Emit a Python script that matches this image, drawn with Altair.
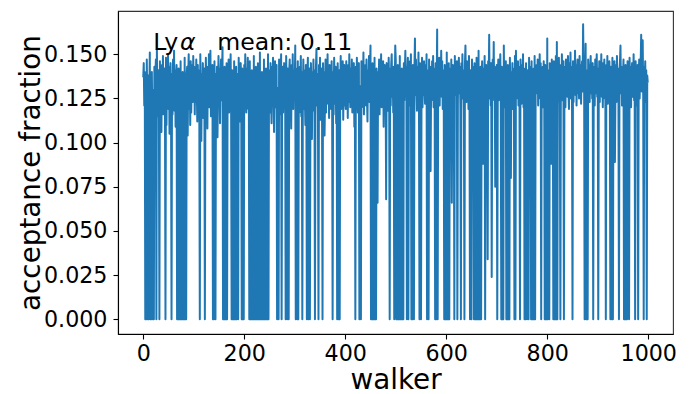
import altair as alt
import pandas as pd

# acceptance fraction per walker, in thousandths
seg0 = [137,145,121,140,0,133,0,147,118,0,
        138,0,125,151,0,119,0,140,112,0,
        130,0,143,117,138,147,0,153,124,115,
        141,122,0,146,118,139,106,144,125,149,
        116,137,142,121,0,148,110,140,126,150,
        119,143,105,138,145,124,0,139,116,147,
        124,152,118,141,109,137,144,0,128,0,
        142,0,128,0,146,0,136,0,140,0,
        120,0,148,0,132,0,139,143,104,137,
        150,119,141,110,146,117,138,144,123,149]
seg1 = [127,143,116,140,123,147,131,112,144,126,
        141,119,0,150,128,101,139,121,145,114,
        129,142,0,123,148,118,140,108,143,124,
        150,120,131,152,115,141,127,144,0,133,
        0,146,122,0,139,116,143,103,127,149,
        121,142,111,138,147,124,140,154,0,129,
        0,143,0,129,0,145,0,133,119,147,
        117,140,126,150,120,0,141,0,137,0,
        146,0,133,0,143,0,139,127,0,148,
        125,141,112,145,128,0,142,0,138,0]
seg2 = [144,122,150,130,117,142,127,148,119,140,
        0,146,0,133,0,141,0,127,0,149,
        0,136,0,143,0,130,0,145,0,138,
        0,151,0,128,0,140,0,134,0,147,
        0,125,0,142,0,137,0,150,0,133,
        141,117,145,129,111,143,122,148,126,106,
        133,146,120,137,144,0,131,123,0,147,
        116,141,128,150,0,124,143,117,131,145,
        121,138,0,149,127,0,142,116,0,140,
        147,123,133,108,144,127,150,119,141,125]
seg3 = [131,155,0,142,122,0,146,0,128,117,
        143,128,149,115,140,0,124,147,119,141,
        127,110,144,123,0,139,148,0,125,142,
        0,117,145,129,102,140,122,147,118,141,
        0,127,143,153,121,139,115,0,144,124,
        148,113,131,142,120,0,145,127,140,104,
        125,147,117,141,129,150,122,139,114,144,
        126,142,119,146,124,0,140,116,148,130,
        122,143,111,139,0,145,125,0,141,0,
        127,149,119,142,124,146,113,139,144,121]
seg4 = [141,119,146,126,139,114,144,123,150,130,
        120,142,127,147,117,140,124,145,109,138,
        0,143,122,148,128,117,141,145,0,125,
        132,0,146,120,142,128,151,116,140,124,
        144,121,147,127,112,141,130,149,123,143,
        155,0,139,0,145,0,131,0,148,0,
        127,0,142,119,66,140,125,147,116,143,
        128,150,120,141,126,146,109,139,144,122,
        129,68,145,124,140,118,148,127,0,142,
        121,144,150,126,139,117,143,0,130,155]
seg5 = [147,0,139,0,144,0,133,0,149,0,
        130,0,142,0,138,0,145,124,140,152,
        128,143,0,137,148,0,141,121,146,131,
        150,0,129,0,144,125,0,141,159,127,
        147,131,118,143,130,151,123,0,145,134,
        0,128,148,120,142,127,146,132,122,144,
        129,150,0,141,125,0,147,131,143,84,
        133,124,146,128,149,120,142,131,0,145,
        0,129,164,0,141,127,148,121,143,132,
        152,126,146,119,141,130,0,144,0,139]
seg6 = [0,151,0,138,0,145,0,129,142,123,
        147,66,131,144,120,141,0,149,127,143,
        129,146,0,124,140,148,128,143,120,0,
        145,130,150,125,141,118,0,144,155,131,
        123,146,129,142,119,149,127,0,141,130,
        0,147,133,143,139,0,145,0,136,0,
        148,0,140,0,152,0,134,0,143,0,
        131,146,122,88,142,129,149,0,127,144,
        132,120,34,146,130,161,125,142,121,145,
        24,131,147,128,157,124,143,75,141,129]
seg7 = [144,0,130,147,124,141,128,150,121,0,
        143,0,129,0,155,126,142,120,146,0,
        131,0,144,0,127,0,148,123,80,140,
        128,145,119,142,130,0,149,0,152,125,
        141,129,146,121,143,127,0,147,130,122,
        144,128,150,120,142,0,131,0,145,125,
        0,141,129,0,148,124,143,130,0,146,
        0,135,0,142,0,149,0,139,131,144,
        128,147,121,141,130,150,125,145,0,140,
        127,143,120,146,131,0,144,0,137,0]
seg8 = [159,0,141,128,0,145,130,143,88,147,
        125,140,0,146,0,129,0,149,0,157,
        0,142,127,148,131,122,0,144,129,150,
        124,141,146,0,130,143,120,147,128,142,
        126,149,130,119,145,132,151,125,143,129,
        0,146,123,141,130,152,127,144,121,140,
        147,128,142,125,149,130,144,122,141,146,
        129,167,143,148,0,131,156,0,141,127,
        0,147,130,144,123,142,149,128,140,125,
        145,0,130,143,121,147,128,141,150,126]
seg9 = [142,0,129,146,123,143,131,150,126,141,
        120,145,130,147,125,140,0,144,128,149,
        122,142,129,146,124,0,143,131,0,148,
        0,127,141,146,89,130,144,123,149,129,
        142,125,0,140,146,155,128,143,121,141,
        138,147,0,135,0,144,0,139,0,146,
        125,141,0,148,129,143,120,140,145,126,
        131,150,124,142,0,146,128,141,121,144,
        0,130,147,125,140,145,161,129,142,158,
        127,0,143,131,146,123,141,0,138,134]

segments = [seg0, seg1, seg2, seg3, seg4, seg5, seg6, seg7, seg8, seg9]
fraction = [v / 1000 for s in segments for v in s]
walker = list(range(len(fraction)))

x_ticks = [0, 200, 400, 600, 800, 1000]
y_ticks = [0.0, 0.025, 0.05, 0.075, 0.1, 0.125, 0.15]

df = pd.DataFrame({"walker": walker, "fraction": fraction})

FONT = "DejaVu Sans"

line = alt.Chart(df).mark_line(
    color="#1f77b4", strokeWidth=2, strokeJoin="round", clip=True
).encode(
    x=alt.X("walker:Q",
            scale=alt.Scale(domain=[-50, 1049], nice=False, zero=False),
            axis=alt.Axis(values=x_ticks, format="d", title="walker",
                          titleX=277.5, titleY=54, titleBaseline="alphabetic",
                          titleAlign="center",
                          labelBaseline="alphabetic", labelPadding=21)),
    y=alt.Y("fraction:Q",
            scale=alt.Scale(domain=[-0.0083, 0.1745], nice=False, zero=False),
            axis=alt.Axis(values=y_ticks, format=".3f", title="acceptance fraction",
                          titleX=-79, titleY=161.5, titleAngle=270,
                          titleBaseline="alphabetic", titleAlign="center",
                          labelPadding=6)),
)

ly = alt.Chart(df.head(1)).mark_text(
    text="Ly", font=FONT, fontSize=23.6, align="left", baseline="alphabetic", color="black"
).encode(x=alt.value(35.3), y=alt.value(39))
alpha = alt.Chart(df.head(1)).mark_text(
    text="α", font=FONT, fontSize=23.6, fontStyle="italic", align="left",
    baseline="alphabetic", color="black"
).encode(x=alt.value(62), y=alt.value(39))
mean = alt.Chart(df.head(1)).mark_text(
    text="mean: 0.11", font=FONT, fontSize=23.6, align="left",
    baseline="alphabetic", color="black"
).encode(x=alt.value(99.3), y=alt.value(39))

chart = alt.layer(line, ly, alpha, mean).properties(
    width=555, height=323,
    autosize=alt.AutoSizeParams(type="none"),
    padding={"left": 118, "top": 11, "right": 19, "bottom": 60},
    background="white",
).configure_view(
    stroke="#333", strokeWidth=1.1
).configure_axis(
    grid=False,
    domainColor="black", domainWidth=1.1,
    tickColor="black", tickSize=5, tickWidth=1.1,
    labelFont=FONT, labelFontSize=22.2, labelColor="black",
    titleFont=FONT, titleFontSize=27.8, titleFontWeight="normal", titleColor="black",
)

chart.save("out.html", embed_options={"renderer": "svg", "actions": False})
